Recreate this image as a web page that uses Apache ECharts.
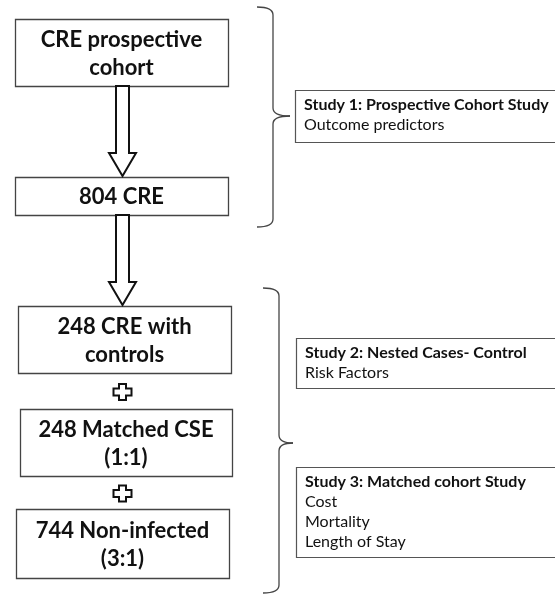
<!DOCTYPE html>
<html>
<head>
<meta charset="utf-8">
<script src="https://cdn.jsdelivr.net/npm/echarts@6/dist/echarts.min.js"></script>
<style>
  html, body { margin: 0; padding: 0; background: #fff; }
  #chart { width: 555px; height: 598px; }
</style>
</head>
<body>
<div id="chart"></div>
<script>
// flow boxes (left column)
const flowLabels = ['CRE prospective\ncohort', '804 CRE', '248 CRE with\ncontrols', '248 Matched CSE\n(1:1)', '744 Non-infected\n(3:1)'];
// connectors between consecutive boxes
const connectors = ['arrow', 'arrow', 'plus', 'plus'];
// study boxes (right column)
const studyTitles = ['Study 1: Prospective Cohort Study', 'Study 2: Nested Cases- Control', 'Study 3: Matched cohort Study'];
const studyItems = [['Outcome predictors'], ['Risk Factors'], ['Cost', 'Mortality', 'Length of Stay']];

// layout (pixels)
const boxRects = [[15, 19, 213, 67], [15, 177, 213, 38], [18, 306, 213, 67], [20, 409, 212, 67], [16, 509, 213, 69]];
const studyRects = [[295, 90, 265, 52], [296, 338, 265, 50], [296, 467, 265, 90]];
const braces = [{x0: 257, x1: 273, tip: 290, top: 7, mid: 116, bottom: 227},
                {x0: 263, x1: 279, tip: 293, top: 288, mid: 443, bottom: 593}];
const FONT = 'Lato, "Open Sans", sans-serif';
const INK = '#111';

const chart = echarts.init(document.getElementById('chart'));
const g = [];

boxRects.forEach((r, i) => {
  g.push({type: 'rect', shape: {x: r[0] + 0.5, y: r[1] + 0.5, width: r[2], height: r[3]},
    style: {fill: '#fff', stroke: '#444', lineWidth: 1.3}});
  g.push({type: 'text', x: r[0] + r[2] / 2, y: r[1] + r[3] / 2 + 1,
    style: {text: flowLabels[i], font: 'bold 22px ' + FONT, fill: INK,
      textAlign: 'center', textVerticalAlign: 'middle', lineHeight: 28}});
});

connectors.forEach((c, i) => {
  const a = boxRects[i], b = boxRects[i + 1];
  const cx = 122.5;
  const top = a[1] + a[3], bot = b[1];
  if (c === 'arrow') {
    const hs = bot - 24;
    g.push({type: 'polygon', shape: {points: [
      [cx - 6.5, top], [cx + 6.5, top], [cx + 6.5, hs], [cx + 13.5, hs],
      [cx, bot - 1], [cx - 13.5, hs], [cx - 6.5, hs]]},
      style: {fill: '#fff', stroke: '#111', lineWidth: 2}});
  } else {
    const cy = (top + bot) / 2 + 1;
    const s = 3.5, l = 9, h = 8;
    g.push({type: 'polygon', shape: {points: [
      [cx - s, cy - h], [cx + s, cy - h], [cx + s, cy - s], [cx + l, cy - s],
      [cx + l, cy + s], [cx + s, cy + s], [cx + s, cy + h], [cx - s, cy + h],
      [cx - s, cy + s], [cx - l, cy + s], [cx - l, cy - s], [cx - s, cy - s]]},
      style: {fill: '#fff', stroke: '#111', lineWidth: 2}});
  }
});

const braceStyle = {fill: null, stroke: '#444', lineWidth: 1.3};
braces.forEach(b => {
  const curve = (x1, y1, x2, y2, cx, cy) => g.push({type: 'bezierCurve',
    shape: {x1: x1, y1: y1, x2: x2, y2: y2, cpx1: cx, cpy1: cy}, style: braceStyle});
  curve(b.x0, b.top, b.x1, b.top + 8, b.x1, b.top);
  g.push({type: 'line', shape: {x1: b.x1, y1: b.top + 8, x2: b.x1, y2: b.mid - 8}, style: braceStyle});
  curve(b.x1, b.mid - 8, b.tip, b.mid, b.x1, b.mid);
  curve(b.tip, b.mid, b.x1, b.mid + 8, b.x1, b.mid);
  g.push({type: 'line', shape: {x1: b.x1, y1: b.mid + 8, x2: b.x1, y2: b.bottom - 8}, style: braceStyle});
  curve(b.x1, b.bottom - 8, b.x0, b.bottom, b.x1, b.bottom);
});

studyRects.forEach((r, i) => {
  g.push({type: 'rect', shape: {x: r[0] + 0.5, y: r[1] + 0.5, width: r[2], height: r[3]},
    style: {fill: '#fff', stroke: '#555', lineWidth: 1.2}});
  g.push({type: 'text', x: r[0] + 9, y: r[1] + 5,
    style: {text: studyTitles[i], font: 'bold 16px ' + FONT, fill: INK, textAlign: 'left', textVerticalAlign: 'top', lineHeight: 20}});
  g.push({type: 'text', x: r[0] + 9, y: r[1] + 25,
    style: {text: studyItems[i].join('\n'), font: '16px ' + FONT, fill: INK, textAlign: 'left', textVerticalAlign: 'top', lineHeight: 20}});
});

chart.setOption({animation: false, graphic: {elements: g}});
</script>
</body>
</html>
